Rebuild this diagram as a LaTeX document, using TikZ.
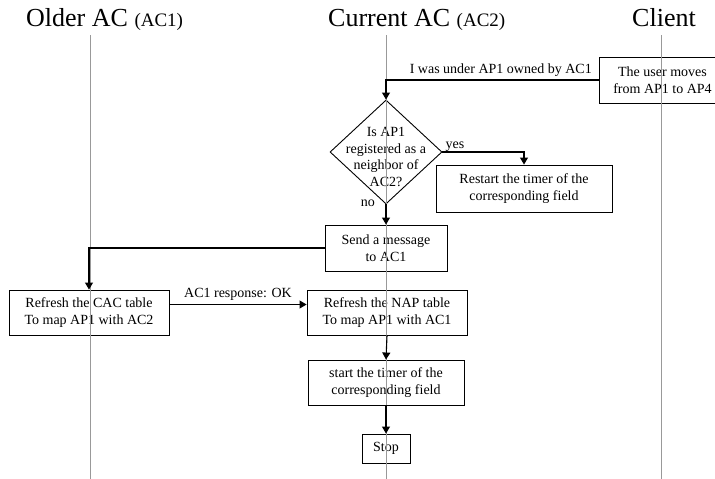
\documentclass[tikz,border=0pt]{standalone}
\usepackage{fontspec}
\setmainfont{Liberation Serif}
\usetikzlibrary{shapes.geometric,arrows.meta,calc}
\begin{document}
\begin{tikzpicture}[x=1pt,y=-1pt,
  every node/.style={font=\fontsize{14}{17}\selectfont},
  box/.style={draw=black,line width=0.9pt,fill=white,rectangle,inner sep=0pt,align=center},
  decision/.style={draw=black,line width=0.9pt,fill=white,diamond,inner sep=0pt,aspect=1},
  life/.style={draw=black!40,line width=0.9pt},
  arr/.style={draw=black,line width=1.1pt,-{Triangle[length=7pt,width=8pt]}},
  hdr/.style={font=\fontsize{26}{30}\selectfont,anchor=base west,inner sep=0pt},
  hdrs/.style={font=\fontsize{19}{22}\selectfont}
]
\useasboundingbox (0,0) rectangle (715,479);
\clip (0,0) rectangle (715,479);

% headers
\node[hdr] (h1) at (26,27) {Older AC {\fontsize{19}{22}\selectfont (AC1)}};
\node[hdr] (h2) at (328,27) {Current AC {\fontsize{19}{22}\selectfont (AC2)}};
\node[hdr] (h3) at (632,27) {Client};

% boxes
\node[box,minimum width=127pt,minimum height=46pt] (client) at (662.5,80) {The user moves\\from AP1 to AP4};
\node[decision,minimum width=112pt,minimum height=104pt] (dec) at (386,152) {};
\node[align=center,inner sep=0pt,font=\fontsize{14}{16.5}\selectfont] (dectext) at ($(dec.center)+(0,5)$) {Is AP1\\registered as a\\neighbor of\\AC2?};
\node[box,minimum width=176pt,minimum height=47pt] (restart) at (524,188.5) {Restart the timer of the\\corresponding field};
\node[box,minimum width=122pt,minimum height=46pt] (send) at (386,248) {Send a message\\to AC1};
\node[box,minimum width=160pt,minimum height=45pt] (cac) at (89,312.5) {Refresh the CAC table\\To map AP1 with AC2};
\node[box,minimum width=160pt,minimum height=45pt] (nap) at (387,312.5) {Refresh the NAP table\\To map AP1 with AC1};
\node[box,minimum width=156pt,minimum height=45pt] (start) at (386,382.5) {start the timer of the\\corresponding field};
\node[box,minimum width=48pt,minimum height=29pt] (stop) at (386,448.5) {Stop};

% lifelines
\coordinate (l1a) at (90.5,35); \coordinate (l1b) at (90.5,479);
\coordinate (l2a) at (386,35); \coordinate (l2b) at (386,479);
\coordinate (l3a) at (661,35); \coordinate (l3b) at (661,479);
\draw[life] (l1a) -- (l1b);
\draw[life] (l2a) -- (l2b);
\draw[life] (l3a) -- (l3b);

% connectors
\draw[arr] (client.west) -| node[pos=0.23,above,inner sep=3pt] {I was under AP1 owned by AC1} (dec.north);
\draw[arr] (dec.east) -| (restart.north);
\node[anchor=base west,inner sep=0pt] (yes) at ($(dec.east)+(3,-4)$) {yes};
\draw[arr] (dec.south) -- (send.north);
\node[anchor=base east,inner sep=0pt] (no) at ($(dec.south)+(-11,2)$) {no};
\draw[arr] (send.west) -| (cac.north);
\draw[arr] ([yshift=8pt]cac.east) -- node[midway,above,inner sep=3pt] {AC1 response: OK} ([yshift=8pt]nap.west);
\draw[arr] (nap.south) -- (start.north);
\draw[arr] (start.south) -- (stop.north);
\end{tikzpicture}
\end{document}
